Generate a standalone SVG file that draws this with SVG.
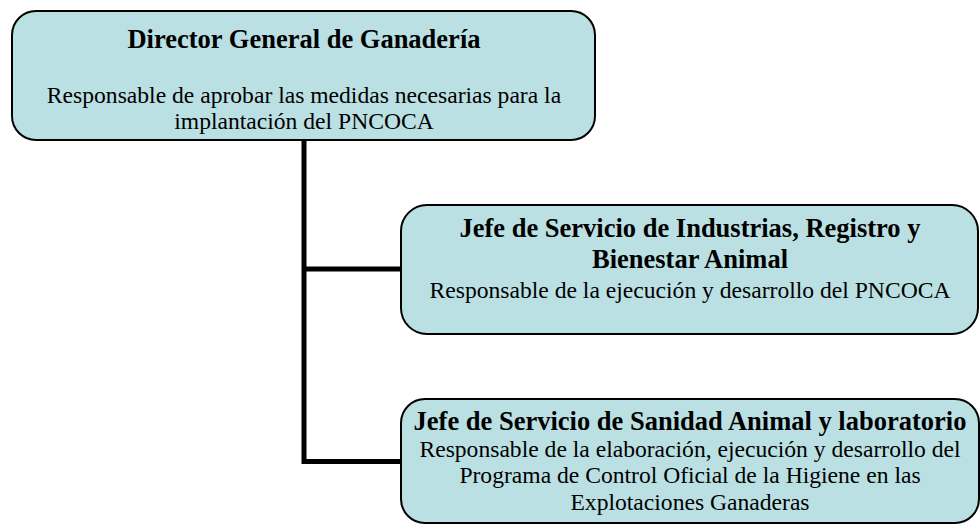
<svg xmlns="http://www.w3.org/2000/svg" width="980" height="525" viewBox="0 0 980 525">
<style>
.box{fill:#bbe0e3;stroke:#000;stroke-width:2}
.t{font-family:"Liberation Serif","Times New Roman",serif;font-weight:bold;font-size:26.5px;text-anchor:middle;fill:#000}
.b{font-family:"Liberation Serif","Times New Roman",serif;font-size:23.6px;text-anchor:middle;fill:#000}
.c{fill:none;stroke:#000;stroke-width:5}
</style>
<rect width="980" height="525" fill="#fff"/>
<g id="connectors">
<path class="c" d="M304,140 V464 M304,269 H401 M304,461.5 H401"/>
</g>
<g id="director">
<rect class="box" x="12" y="11" width="583" height="129" rx="24"/>
<text class="t" x="304" y="48">Director General de Ganadería</text>
<text class="b" x="304" y="103">Responsable de aprobar las medidas necesarias para la</text>
<text class="b" x="304" y="129">implantación del PNCOCA</text>
</g>
<g id="industrias">
<rect class="box" x="401" y="205" width="577" height="129" rx="26"/>
<text class="t" x="690" y="237">Jefe de Servicio de Industrias, Registro y</text>
<text class="t" x="690" y="268">Bienestar Animal</text>
<text class="b" x="690" y="298">Responsable de la ejecución y desarrollo del PNCOCA</text>
</g>
<g id="sanidad">
<rect class="box" x="401" y="399" width="578" height="124" rx="24"/>
<text class="t" x="690" y="430">Jefe de Servicio de Sanidad Animal y laboratorio</text>
<text class="b" x="690" y="457">Responsable de la elaboración, ejecución y desarrollo del</text>
<text class="b" x="690" y="483">Programa de Control Oficial de la  Higiene en las</text>
<text class="b" x="690" y="510">Explotaciones Ganaderas</text>
</g>
</svg>
